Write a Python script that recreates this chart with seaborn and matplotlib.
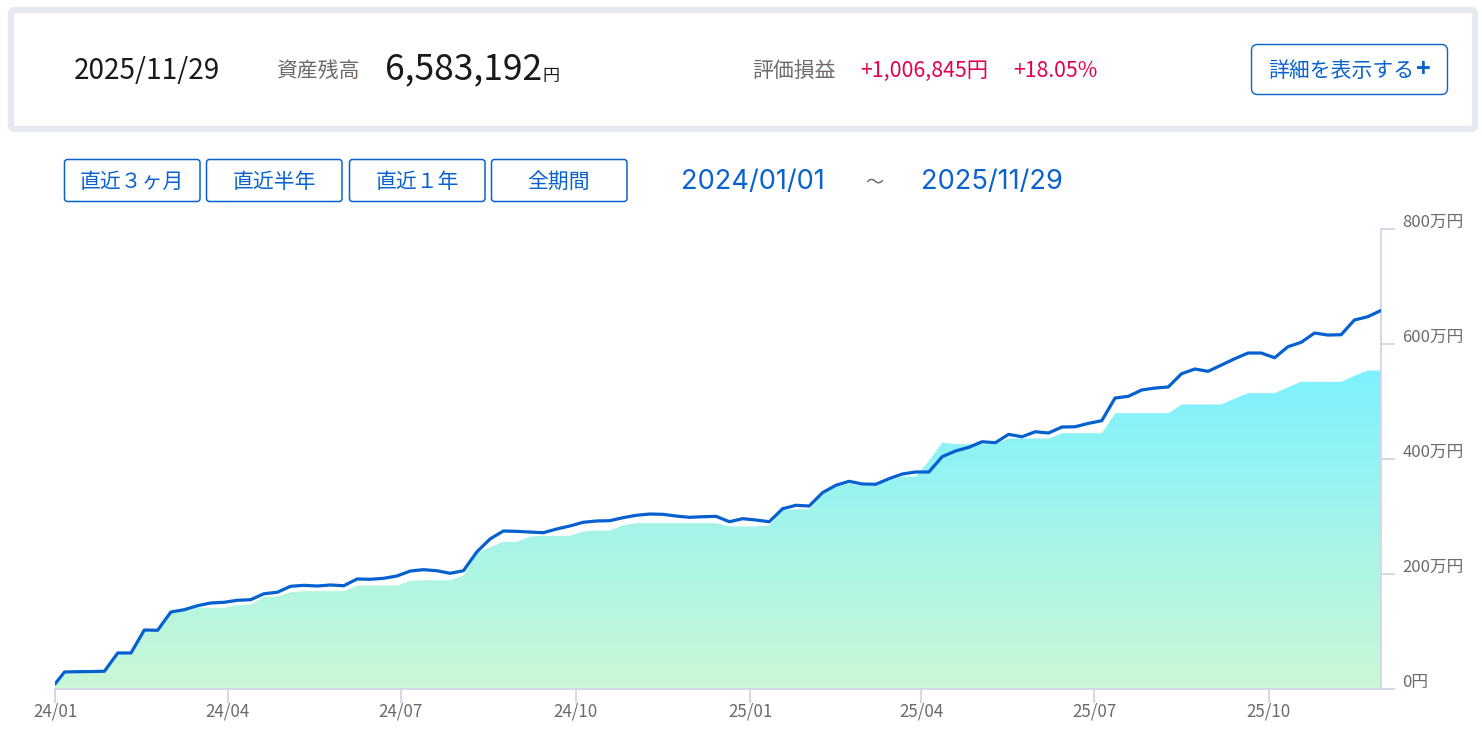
import matplotlib
matplotlib.use("Agg")
import matplotlib.pyplot as plt
import matplotlib.dates as mdates
from matplotlib.patches import FancyBboxPatch
from matplotlib.transforms import ScaledTranslation
import numpy as np
import pandas as pd
import seaborn as sns

W, H = 1482, 736

# weekly values, unit = 万円
balance = [
    8.7, 29.6, 30.1, 30.4, 30.8, 62.6, 62.6, 102.6, 102.1, 133.9,
    137.9, 144.9, 149.6, 150.8, 154.3, 155.3, 165.7, 168.2, 178.6, 180.3,
    179.1, 180.9, 179.6, 191.3, 190.8, 192.5, 196.5, 205.2, 207.5, 205.7,
    201.2, 205.7, 238.2, 260.9, 274.8, 274.2, 273.0, 271.8, 278.2, 283.5,
    289.9, 292.2, 292.7, 297.9, 302.1, 304.3, 303.8, 300.8, 298.6, 299.6,
    300.3, 290.9, 296.2, 293.9, 290.9, 313.5, 319.5, 318.2, 341.4, 354.2,
    361.2, 356.5, 356.0, 365.7, 373.9, 377.4, 377.4, 404.0, 413.9, 420.3,
    430.0, 428.3, 442.9, 438.7, 447.4, 445.2, 455.6, 456.1, 462.0, 466.6,
    506.0, 509.0, 520.0, 523.4, 525.2, 548.3, 556.5, 552.5, 563.4, 574.4,
    584.3, 584.3, 576.1, 595.3, 602.9, 619.1, 615.6, 616.1, 641.7, 647.4,
    658.3,
]
principal = [
    7.0, 27.8, 28.7, 29.0, 29.6, 60.9, 60.9, 100.9, 100.9, 132.2,
    137.4, 142.6, 142.1, 142.1, 146.6, 147.8, 161.2, 161.7, 169.2, 170.9,
    170.9, 170.9, 170.9, 180.9, 180.9, 180.9, 180.9, 189.0, 190.0, 190.0,
    190.0, 198.2, 237.0, 247.5, 256.8, 256.8, 266.0, 267.3, 267.3, 267.3,
    274.8, 276.5, 276.5, 285.7, 289.2, 289.2, 289.2, 289.2, 289.2, 289.2,
    289.2, 283.5, 283.5, 283.5, 284.7, 312.5, 313.5, 313.5, 339.1, 351.8,
    358.2, 354.2, 354.2, 363.5, 370.4, 370.4, 398.2, 429.5, 426.6, 426.6,
    426.6, 426.6, 436.5, 436.5, 436.5, 436.5, 445.7, 445.7, 445.7, 445.7,
    480.5, 480.5, 480.5, 480.5, 480.5, 495.6, 495.6, 495.6, 495.6, 506.0,
    515.3, 515.3, 515.3, 525.7, 535.1, 535.1, 535.1, 535.1, 545.5, 554.7,
    554.7,
]
dates = pd.to_datetime(["2024-01-01"]).append(pd.date_range("2024-01-06", "2025-11-29", freq="7D"))

x_ticks = pd.to_datetime(["2024-01-01", "2024-04-01", "2024-07-01", "2024-10-01",
                          "2025-01-01", "2025-04-01", "2025-07-01", "2025-10-01"])
x_labels = ["24/01", "24/04", "24/07", "24/10", "25/01", "25/04", "25/07", "25/10"]
y_ticks = [0, 200, 400, 600, 800]
y_labels = ["0円", "200万円", "400万円", "600万円", "800万円"]
range_buttons = ["直近３ヶ月", "直近半年", "直近１年", "全期間"]

BLUE = "#0a62cf"
GREY = "#6f6a66"
RED = "#e5004f"
AXIS = "#d3d8ea"

sns.set_theme(style="white")
plt.rcParams["font.family"] = ["Noto Sans CJK JP", "DejaVu Sans"]

df = pd.DataFrame({"date": dates, "balance": balance, "principal": principal})

fig = plt.figure(figsize=(W / 100, H / 100), dpi=100, facecolor="white")
ax = fig.add_axes([55 / W, 1 - 689 / H, (1381 - 55) / W, 460 / H])
ax.set_facecolor("none")

# area with vertical gradient, clipped to the polygon
poly = ax.fill_between(df["date"], df["principal"], 0, color="none", lw=0)
x0, x1 = mdates.date2num(dates[0]), mdates.date2num(dates[-1])
grad = np.linspace(0, 1, 256).reshape(-1, 1)
cmap = matplotlib.colors.LinearSegmentedColormap.from_list("area", ["#7df1ff", "#cbf8d5"])
im = ax.imshow(grad, extent=[x0, x1, 0, max(principal)], aspect="auto", cmap=cmap, zorder=1)
im.set_clip_path(poly.get_paths()[0], transform=ax.transData)

sns.lineplot(data=df, x="date", y="principal", ax=ax, color="white", lw=0.7, zorder=2, errorbar=None)
sns.lineplot(data=df, x="date", y="balance", ax=ax, color="#0560d0", lw=2.3, zorder=3, errorbar=None)

ax.set_xlim(x0, x1)
ax.set_ylim(0, 800)
ax.set_xlabel("")
ax.set_ylabel("")
sns.despine(ax=ax, left=True, top=True, right=False)
ax.spines["right"].set_color(AXIS)
ax.spines["right"].set_linewidth(1.4)
ax.spines["bottom"].set_color(AXIS)
ax.spines["bottom"].set_linewidth(1.4)

ax.set_xticks(x_ticks)
ax.set_xticklabels(x_labels, fontsize=12.2, color=GREY)
ax.tick_params(axis="x", bottom=True, length=10, width=1.4, color=AXIS, pad=0)
ax.yaxis.tick_right()
ax.set_yticks(y_ticks)
ax.set_yticklabels(y_labels, fontsize=12, color=GREY, va="bottom")
ax.tick_params(axis="y", right=True, left=False, length=10, width=1.4, color=AXIS, pad=5.5)
# labels sit a bit lower than matplotlib puts them
for lab in ax.get_yticklabels():
    lab.set_transform(lab.get_transform() + ScaledTranslation(0, -2 / 100, fig.dpi_scale_trans))

# header widgets, drawn in pixel coordinates
ov = fig.add_axes([0, 0, 1, 1], facecolor="none")
ov.set_xlim(0, W)
ov.set_ylim(H, 0)
ov.axis("off")


def box(x, y, w, h, ec, lw, r):
    ov.add_patch(FancyBboxPatch((x, y), w, h, boxstyle=f"round,pad=0,rounding_size={r}",
                                fc="white", ec=ec, lw=lw))


box(11, 10, 1464, 119, "#e6e9f0", 4.5, 4)
box(1251.5, 44.5, 196, 50, BLUE, 1.0, 6)
for left, label in zip([64, 206, 349, 491], range_buttons):
    box(left + 0.5, 159.5, 135.5, 42, BLUE, 1.1, 3)
    ov.text(left + 68, 182, label, ha="center", va="center", fontsize=15, color=BLUE)

wide = ["Inter", "Noto Sans CJK JP"]
ov.text(74, 70.5, "2025/11/29", va="center", fontsize=20.1, color="#1a1a1a")
ov.text(276, 71, "資産残高", va="center", fontsize=15, color=GREY)
ov.text(385, 69.5, "6,583,192", va="center", fontsize=25.5, color="#1a1a1a")
ov.text(543, 76, "円", va="center", fontsize=12.3, color="#1a1a1a")
ov.text(752, 71, "評価損益", va="center", fontsize=15, color=GREY)
ov.text(860, 71, "+1,006,845円", va="center", fontsize=15.4, color=RED)
ov.text(1013, 71, "+18.05%", va="center", fontsize=15.3, color=RED)
ov.text(1268, 71, "詳細を表示する", va="center", fontsize=15, color=BLUE)
ov.text(1423, 70, "+", ha="center", va="center", fontsize=18, fontweight="bold", color=BLUE)
ov.text(681, 182.5, "2024/01/01", va="center", fontsize=19.6, color=BLUE, family=wide)
ov.text(874, 183, "～", ha="center", va="center", fontsize=13, color=GREY)
ov.text(921, 182.5, "2025/11/29", va="center", fontsize=19.6, color=BLUE, family=wide)

fig.savefig("out.png", dpi=100)
